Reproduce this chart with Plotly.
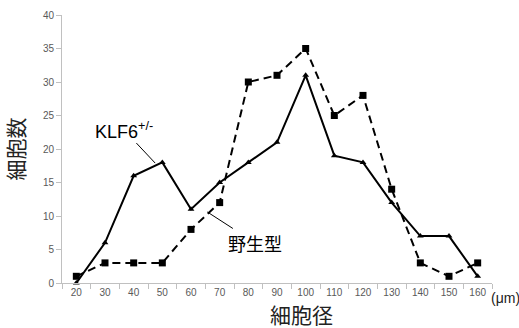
import plotly.graph_objects as go

categories = ["20", "30", "40", "50", "60", "70", "80", "90", "100", "110", "120", "130", "140", "150", "160"]
klf6_values = [0, 6, 16, 18, 11, 15, 18, 21, 31, 19, 18, 12, 7, 7, 1]
wild_values = [1, 3, 3, 3, 8, 12, 30, 31, 35, 25, 28, 14, 3, 1, 3]
y_ticks = [0, 5, 10, 15, 20, 25, 30, 35, 40]

JP = "Noto Sans CJK JP"
LAT = "Liberation Sans"
AX = "#c0c0c0"
TK = "#595959"

L, R, T, B = 62, 27, 15, 45
W, H = 519, 328
plot_w = W - L - R
plot_h = H - T - B

fig = go.Figure()
fig.add_trace(go.Scatter(
    x=categories, y=wild_values, mode="lines+markers",
    line=dict(color="black", width=2, dash="8px,5px"),
    marker=dict(symbol="square", size=7, color="black"),
    cliponaxis=False, showlegend=False))
fig.add_trace(go.Scatter(
    x=categories, y=klf6_values, mode="lines+markers",
    line=dict(color="black", width=2),
    marker=dict(symbol="triangle-up", size=6, color="black"),
    cliponaxis=False, showlegend=False))

fig.update_layout(
    width=W, height=H,
    margin=dict(l=L, r=R, t=T, b=B, autoexpand=False),
    paper_bgcolor="white", plot_bgcolor="white",
    xaxis=dict(type="category", range=[-0.5, 14.5], showline=True, linecolor=AX, linewidth=1,
               ticks="outside", tickson="boundaries", ticklen=5, tickcolor=AX,
               tickfont=dict(family=LAT, size=10, color=TK), showgrid=False, zeroline=False),
    yaxis=dict(range=[0, 40], tickvals=y_ticks, showline=True, linecolor=AX, linewidth=1,
               ticks="outside", ticklen=5, tickcolor=AX,
               tickfont=dict(family=LAT, size=10, color=TK), showgrid=False, zeroline=False,
               title=dict(text="細胞数", font=dict(family=JP, size=21, color="#222"), standoff=14)),
    annotations=[
        dict(x=2.75, y=17.9, xref="x", yref="y", text="KLF6<sup>+/-</sup>", showarrow=True,
             arrowhead=0, arrowwidth=1, arrowcolor="black", ax=-31, ay=-33,
             font=dict(family=LAT, size=18, color="black")),
        dict(x=4.57, y=10.6, xref="x", yref="y", text="野生型", showarrow=True,
             arrowhead=0, arrowwidth=1, arrowcolor="black", ax=48, ay=31,
             font=dict(family=JP, size=18, color="black")),
        dict(x=(301 - L) / plot_w, y=-(314 - (H - B)) / plot_h, xref="paper", yref="paper",
             text="細胞径", showarrow=False, xanchor="center", yanchor="middle",
             font=dict(family=JP, size=21, color="#222")),
        dict(x=(505 - L) / plot_w, y=-(298 - (H - B)) / plot_h, xref="paper", yref="paper",
             text="(μm)", showarrow=False, xanchor="center", yanchor="middle",
             font=dict(family=LAT, size=14, color="#222")),
    ],
)

fig.write_html("out.html", config={"displayModeBar": False},
               post_script="document.body.style.margin='0';document.body.style.overflow='hidden';")
